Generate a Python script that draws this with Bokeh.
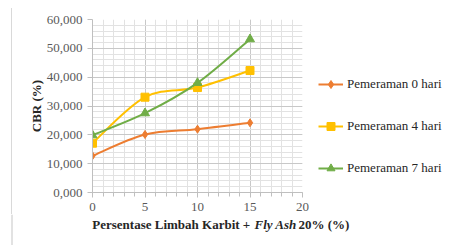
import numpy as np
from bokeh.plotting import figure
from bokeh.layouts import column, row
from bokeh.models import (Range1d, FixedTicker, CustomJSTickFormatter, Legend, LegendItem,
                          ColumnDataSource, Div)
from bokeh.core.properties import value
from bokeh.embed import file_html
from bokeh.resources import INLINE

# ---- data ----
x_vals = [0, 5, 10, 15]
cbr_0_hari = [12.73, 20.12, 21.96, 24.17]
cbr_4_hari = [17.10, 33.06, 36.40, 42.30]
cbr_7_hari = [19.88, 27.50, 38.03, 53.17]
series_names = ["Pemeraman 0 hari", "Pemeraman 4 hari", "Pemeraman 7 hari"]
x_ticks = [0, 5, 10, 15, 20]
y_ticks = [0, 10, 20, 30, 40, 50, 60]
x_title_parts = ["Persentase Limbah  Karbit +", "Fly Ash", "20% (%)"]

colors = ["#ED7D31", "#FFC000", "#70AD47"]
markers = ["diamond", "square", "triangle"]
msizes = [8, 8, 9]
FONT = "Liberation Serif"
BOX = "#d9d9d9"

# ---- main chart ----
p = figure(frame_width=210, frame_height=173, output_backend="svg", toolbar_location=None,
           x_range=Range1d(0, 20), y_range=Range1d(0, 60),
           min_border_left=80, min_border_right=150, min_border_top=11, min_border_bottom=22)
p.outline_line_color = None
p.background_fill_color = "white"
p.border_fill_color = "white"

p.xaxis.ticker = FixedTicker(ticks=x_ticks, minor_ticks=list(range(0, 21)))
p.yaxis.ticker = FixedTicker(ticks=y_ticks, minor_ticks=list(range(0, 61, 2)))
p.yaxis.formatter = CustomJSTickFormatter(code="return tick.toFixed(3).replace('.', ',');")
for ax in (p.xaxis, p.yaxis):
    ax.axis_line_color = "#bfbfbf"
    ax.major_tick_line_color = "#bfbfbf"
    ax.minor_tick_line_color = "#bfbfbf"
    ax.major_label_text_font = FONT
    ax.major_label_text_font_size = "13px"
    ax.major_label_text_color = "#595959"
p.xaxis.major_tick_out = 5
p.xaxis.major_tick_in = 0
p.xaxis.minor_tick_out = 4
p.xaxis.minor_tick_in = 0
p.xaxis.major_label_standoff = 5
p.yaxis.major_tick_out = 5
p.yaxis.major_tick_in = 0
p.yaxis.minor_tick_out = 0
p.yaxis.minor_tick_in = 0
p.yaxis.major_label_standoff = 5
p.yaxis.axis_label = "CBR (%)"
p.yaxis.axis_label_text_font = FONT
p.yaxis.axis_label_text_font_style = "bold"
p.yaxis.axis_label_text_font_size = "13px"
p.yaxis.axis_label_text_color = "#262626"
p.yaxis.axis_label_standoff = 0

p.xgrid.grid_line_color = "#c8c8c8"
p.ygrid.grid_line_color = "#c8c8c8"
p.xgrid.minor_grid_line_color = "#e2e2e2"
p.ygrid.minor_grid_line_color = "#e2e2e2"

legend_items = []
for ys, c, m, ms, name in zip([cbr_0_hari, cbr_4_hari, cbr_7_hari], colors, markers, msizes, series_names):
    xs = np.array(x_vals, dtype=float)
    yv = np.array(ys, dtype=float)
    n = len(xs)
    xp = np.concatenate([[xs[0]], xs, [xs[-1]]])
    yp = np.concatenate([[yv[0]], yv, [yv[-1]]])
    seg = dict(x0=[], y0=[], x1=[], y1=[], cx0=[], cy0=[], cx1=[], cy1=[])
    for i in range(n - 1):
        p0x, p0y = xp[i], yp[i]
        p1x, p1y = xp[i + 1], yp[i + 1]
        p2x, p2y = xp[i + 2], yp[i + 2]
        p3x, p3y = xp[i + 3], yp[i + 3]
        seg["x0"].append(p1x); seg["y0"].append(p1y)
        seg["x1"].append(p2x); seg["y1"].append(p2y)
        seg["cx0"].append(p1x + (p2x - p0x) / 6); seg["cy0"].append(p1y + (p2y - p0y) / 6)
        seg["cx1"].append(p2x - (p3x - p1x) / 6); seg["cy1"].append(p2y - (p3y - p1y) / 6)
    bz = p.bezier(x0="x0", y0="y0", x1="x1", y1="y1", cx0="cx0", cy0="cy0", cx1="cx1", cy1="cy1",
                  source=ColumnDataSource(seg), line_color=c, line_width=2)
    sc = p.scatter(x_vals, ys, marker=m, size=ms, fill_color=c, line_color=c)
    legend_items.append(LegendItem(label=name, renderers=[bz, sc]))

legend = Legend(items=legend_items, location=(16, 14), orientation="vertical")
legend.border_line_color = None
legend.background_fill_alpha = 0
legend.margin = 0
legend.padding = 0
legend.spacing = 22
legend.glyph_width = 25
legend.glyph_height = 20
legend.label_height = 20
legend.label_standoff = 4
legend.label_text_font = FONT
legend.label_text_font_size = "13px"
legend.label_text_color = "#262626"
p.add_layout(legend, "right")

# ---- chart-area frame lines (thin grey box around the chart) ----
top = Div(width=452, height=8, margin=0,
          text=('<div style="padding-top:5px;padding-left:11px;">'
                '<div style="height:3px;border-top:1.5px solid %s;border-left:1.5px solid %s;"></div>'
                '</div>') % (BOX, BOX))
left = Div(width=12, height=206, margin=0,
           text=('<div style="padding-left:11px;">'
                 '<div style="height:206px;border-left:1.5px solid %s;"></div></div>') % BOX)

# ---- x-axis title strip (mixed bold / bold-italic) ----
t = figure(width=452, height=31, output_backend="svg", toolbar_location=None,
           x_range=Range1d(0, 452), y_range=Range1d(31, 0),
           x_axis_location=None, y_axis_location=None,
           min_border=0, min_border_left=0, min_border_right=0, min_border_top=0, min_border_bottom=0)
t.grid.visible = False
t.outline_line_color = None
t.background_fill_alpha = 0
t.border_fill_alpha = 0
t.segment(x0=[11.5], y0=[0], x1=[11.5], y1=[31], line_color=BOX, line_width=1.5)
common = dict(text_font=value(FONT), text_font_size="13px", text_color="#262626",
              text_baseline="middle")
t.text(x=[253], y=[10], text=[x_title_parts[0]], text_align="right",
       text_font_style="bold", **common)
t.text(x=[254], y=[10], text=[x_title_parts[1]], text_align="left",
       text_font_style="bold italic", **common)
t.text(x=[298], y=[10], text=[x_title_parts[2]], text_align="left",
       text_font_style="bold", **common)

layout = column(top, row(left, p, spacing=0), t, spacing=0)

open("out.html", "w").write(file_html(layout, INLINE))
